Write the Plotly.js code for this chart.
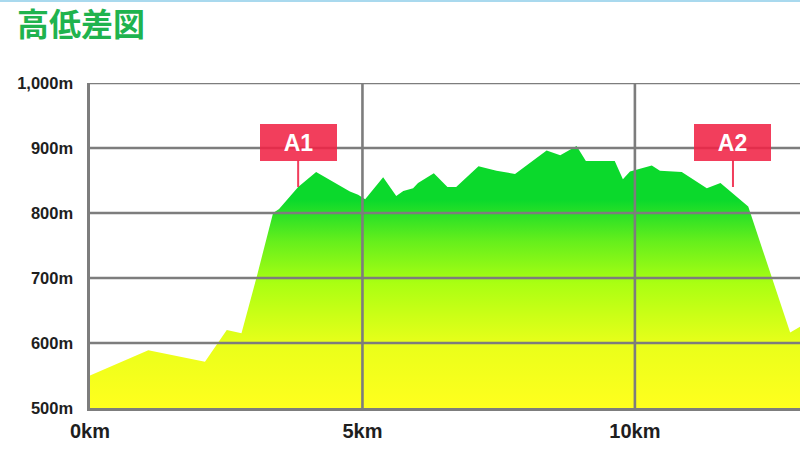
<!DOCTYPE html>
<html>
<head>
<meta charset="utf-8">
<script src="https://cdn.plot.ly/plotly-3.0.1.min.js"></script>
<style>
  html, body { margin: 0; padding: 0; background: #ffffff; }
  #chart { width: 800px; height: 450px; }
</style>
</head>
<body>
<div id="chart"></div>
<script>
// ---- data ----
const distanceKm = [0, 1.07, 2.11, 2.51, 2.78, 3.06, 3.36, 3.47, 3.82, 4.15, 4.77, 4.92, 5.05, 5.38, 5.62, 5.75, 5.93, 6.02, 6.31, 6.56, 6.72, 7.13, 7.46, 7.80, 8.38, 8.63, 8.93, 9.10, 9.63, 9.78, 9.91, 10.31, 10.46, 10.86, 11.32, 11.57, 12.08, 12.85, 13.03];
const elevationM = [550, 589, 571, 620, 615, 702, 800, 806, 840, 863, 833, 828, 821, 855, 826, 834, 838, 846, 861, 840, 840, 872, 865, 860, 896, 889, 903, 880, 880, 852, 864, 873, 865, 863, 838, 846, 810, 616, 625];

const yTickVals = [500, 600, 700, 800, 900, 1000];
const yTickText = ['500m', '600m', '700m', '800m', '900m', '1,000m'];
const xTickVals = [0, 5, 10];
const xTickText = ['0km', '5km', '10km'];

const markerLabels = ['A1', 'A2'];
const markerKm = [3.82, 11.8];
const markerElev = [840, 840];

const chartTitle = '高低差図';

// ---- styling ----
const gridColor = '#7d7d7d';
const gridWidth = 2.6;
const markerColor = 'rgba(240,35,70,0.88)';

const trace = {
  type: 'scatter',
  mode: 'lines',
  x: distanceKm,
  y: elevationM,
  fill: 'tozeroy',
  line: { width: 0, color: 'rgba(0,0,0,0)' },
  fillgradient: {
    type: 'vertical',
    start: 500,
    stop: 820,
    colorscale: [
      [0, '#ffff1e'],
      [0.3, '#eaff1a'],
      [0.6, '#aaff12'],
      [0.8, '#66ef1c'],
      [1, '#0bd92c']
    ]
  },
  hoverinfo: 'skip',
  showlegend: false
};

// grid lines drawn above the fill (as in the reference)
const shapes = [];
yTickVals.forEach(v => {
  if (v === yTickVals[0]) return;
  shapes.push({ type: 'line', layer: 'above', xref: 'paper', x0: 0, x1: 1, yref: 'y', y0: v, y1: v,
    line: { color: gridColor, width: gridWidth } });
});
xTickVals.forEach(v => {
  if (v === xTickVals[0]) return;
  shapes.push({ type: 'line', layer: 'above', xref: 'x', x0: v, x1: v, yref: 'paper', y0: 0, y1: 1,
    line: { color: gridColor, width: gridWidth } });
});
// thin light-blue strip along the very top edge
shapes.push({ type: 'rect', layer: 'above', xref: 'paper', x0: -90 / 710, x1: 1,
  yref: 'paper', y0: 1 + 81 / 325, y1: 1 + 83 / 325,
  line: { width: 0 }, fillcolor: '#a9d9ee' });

const annotations = markerLabels.map((lab, i) => ({
  x: markerKm[i],
  y: markerElev[i],
  xref: 'x',
  yref: 'y',
  text: '<b>' + lab + '</b>',
  font: { family: 'Liberation Sans, Arial, sans-serif', size: 23, color: '#ffffff' },
  bgcolor: markerColor,
  borderpad: 0,
  borderwidth: 0,
  width: 77,
  height: 37,
  showarrow: true,
  arrowhead: 0,
  arrowwidth: 2,
  arrowcolor: markerColor,
  ax: 0,
  ay: -45,
  standoff: 0
}));

const layout = {
  width: 800,
  height: 450,
  margin: { l: 90, r: 0, t: 83, b: 42, pad: 0 },
  paper_bgcolor: '#ffffff',
  plot_bgcolor: '#ffffff',
  title: {
    text: '<b>' + chartTitle + '</b>',
    font: { family: 'Noto Sans CJK JP, sans-serif', size: 32, color: '#1fb34e' },
    xref: 'container', x: 17 / 800, xanchor: 'left',
    yref: 'container', y: 1 - 25 / 450, yanchor: 'middle'
  },
  xaxis: {
    range: [0, 13.03],
    tickvals: xTickVals,
    ticktext: xTickText,
    showgrid: false,
    zeroline: false,
    showline: true,
    linecolor: gridColor,
    linewidth: gridWidth,
    ticks: '',
    ticklabelstandoff: 3,
    tickfont: { family: 'Liberation Sans, Arial, sans-serif', size: 20, color: '#1e1e1e', weight: 'bold' },
    fixedrange: true
  },
  yaxis: {
    range: [500, 1000],
    tickvals: yTickVals,
    ticktext: yTickText,
    showgrid: false,
    zeroline: false,
    showline: true,
    linecolor: gridColor,
    linewidth: gridWidth,
    ticks: '',
    ticklabelstandoff: 11,
    tickfont: { family: 'Liberation Sans, Arial, sans-serif', size: 16.5, color: '#1e1e1e', weight: 'bold' },
    fixedrange: true
  },
  shapes: shapes,
  annotations: annotations,
  showlegend: false
};

Plotly.newPlot('chart', [trace], layout, { displayModeBar: false, staticPlot: true });
</script>
</body>
</html>
